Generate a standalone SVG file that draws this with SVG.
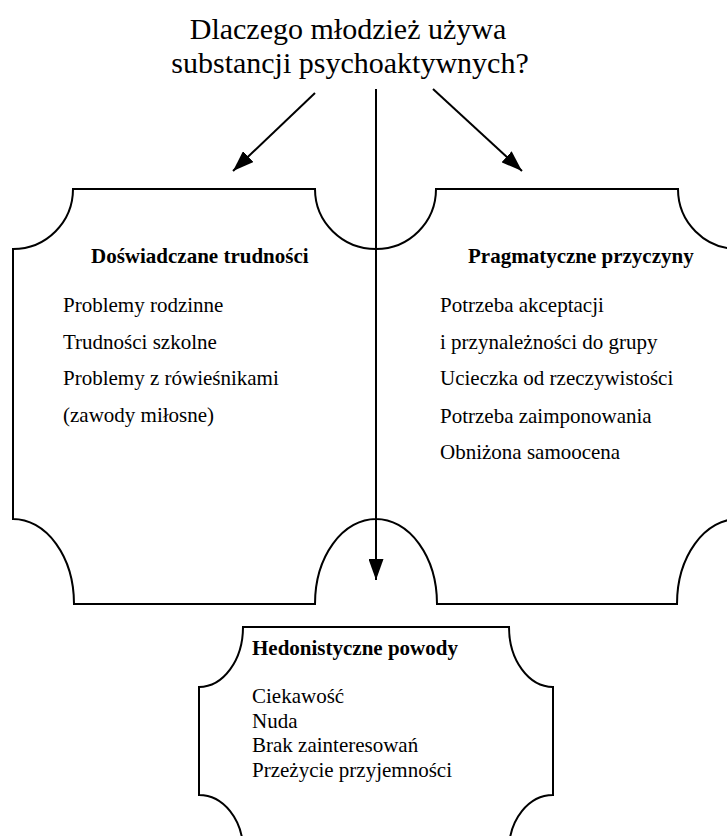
<svg xmlns="http://www.w3.org/2000/svg" width="727" height="836" viewBox="0 0 727 836">
<style>
  .box { fill: none; stroke: #000; stroke-width: 2; }
  .conn { fill: none; stroke: #000; stroke-width: 2; }
  text { font-family: "Liberation Serif", "Times New Roman", serif; fill: #000; }
  .title { font-size: 30px; text-anchor: middle; }
  .head { font-size: 21px; font-weight: bold; }
  .item { font-size: 21px; }
</style>
<defs>
  <marker id="arrow" markerUnits="userSpaceOnUse" markerWidth="21" markerHeight="15" refX="21" refY="7.5" orient="auto">
    <path d="M0,0 L21,7.5 L0,15 Z" fill="#000"/>
  </marker>
</defs>
<rect width="727" height="836" fill="#fff"/>

<g id="title">
  <text class="title" x="348" y="39">Dlaczego młodzież używa</text>
  <text class="title" x="350" y="73">substancji psychoaktywnych?</text>
</g>

<g id="node-trudnosci">
  <path class="box" d="M73,189 L315,189 A61,60 0 0 0 376,249 L376,519 A61,85 0 0 0 315,604 L74,604 A61,85 0 0 0 13,519 L13,249 A60,60 0 0 0 73,189 Z"/>
  <text class="head" x="91" y="263">Doświadczane trudności</text>
  <text class="item" x="63" y="312">Problemy rodzinne</text>
  <text class="item" x="63" y="349">Trudności szkolne</text>
  <text class="item" x="63" y="385">Problemy z rówieśnikami</text>
  <text class="item" x="63" y="422">(zawody miłosne)</text>
</g>

<g id="node-pragmatyczne">
  <path class="box" d="M436,189 L678,189 A60,60 0 0 0 738,249 L738,519 A61,85 0 0 0 677,604 L437,604 A61,85 0 0 0 376,519 L376,249 A60,60 0 0 0 436,189 Z"/>
  <text class="head" x="468" y="263">Pragmatyczne przyczyny</text>
  <text class="item" x="440" y="312">Potrzeba akceptacji</text>
  <text class="item" x="440" y="349">i przynależności do grupy</text>
  <text class="item" x="440" y="385">Ucieczka od rzeczywistości</text>
  <text class="item" x="440" y="423">Potrzeba zaimponowania</text>
  <text class="item" x="440" y="459">Obniżona samoocena</text>
</g>

<g id="node-hedonistyczne">
  <path class="box" d="M243,627 L509,627 A44,60 0 0 0 553,687 L553,795 A44,55 0 0 0 509,850 L243,850 A44,55 0 0 0 199,795 L199,687 A44,60 0 0 0 243,627 Z"/>
  <text class="head" x="252" y="655">Hedonistyczne powody</text>
  <text class="item" x="252" y="703">Ciekawość</text>
  <text class="item" x="252" y="728">Nuda</text>
  <text class="item" x="252" y="752">Brak zainteresowań</text>
  <text class="item" x="252" y="777">Przeżycie przyjemności</text>
</g>

<g id="connectors">
  <line class="conn" x1="315" y1="93" x2="233" y2="171" marker-end="url(#arrow)"/>
  <line class="conn" x1="433" y1="89" x2="522" y2="171" marker-end="url(#arrow)"/>
  <line class="conn" x1="376" y1="89" x2="376" y2="580" marker-end="url(#arrow)"/>
</g>
</svg>
